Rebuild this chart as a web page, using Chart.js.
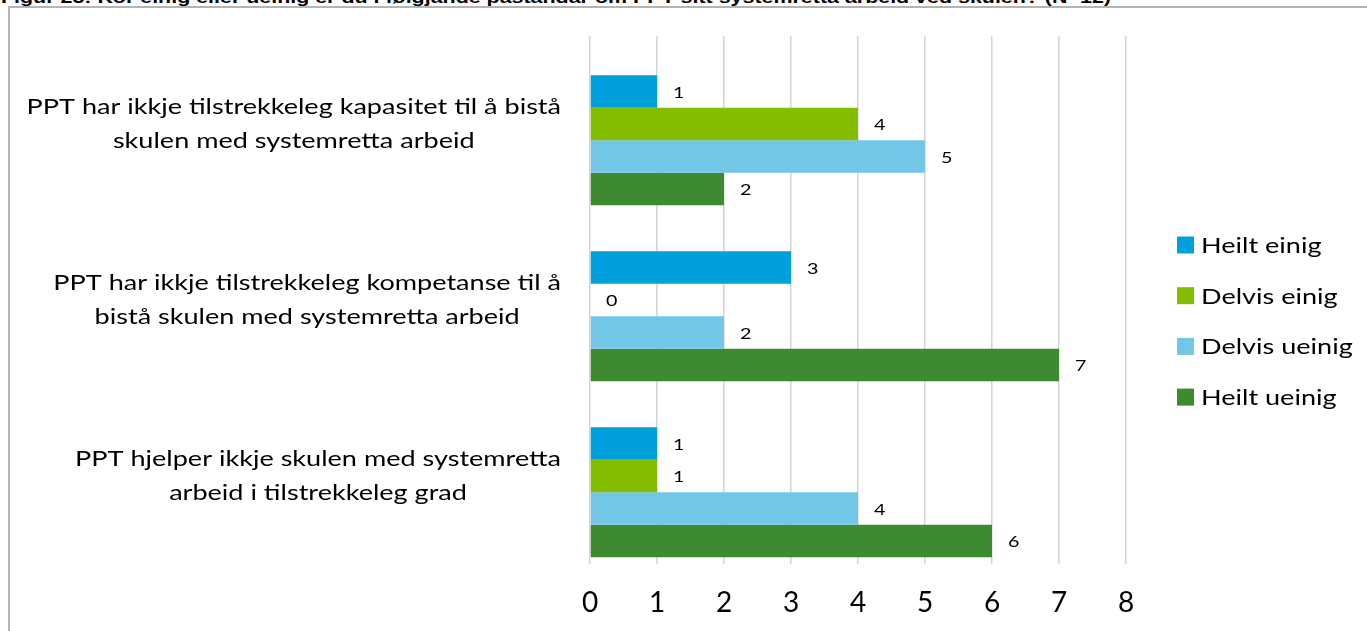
<!DOCTYPE html>
<html>
<head>
<meta charset="utf-8">
<script src="https://cdn.jsdelivr.net/npm/chart.js@4.4.1/dist/chart.umd.min.js"></script>
<style>
  html, body { margin: 0; padding: 0; background: #fff; overflow: hidden; }
  body { width: 1367px; height: 631px; position: relative; }
  #title {
    position: absolute; left: 1px; top: -11px; white-space: nowrap;
    font: bold 17px "Liberation Sans", Arial, sans-serif; line-height: 17px; color: #000;
    transform: scaleX(1.26); transform-origin: 0 0;
  }
  #frame {
    position: absolute; left: 8px; top: 6px; right: 0; bottom: 0;
    border-left: 2px solid #b4b4b4; border-top: 2px solid #b4b4b4;
  }
  #frame canvas { display: block; }
</style>
</head>
<body>
<div id="title">Figur 25: Kor einig eller ueinig er du i følgjande påstandar om PPT sitt systemretta arbeid ved skulen? (N=12)</div>
<div id="frame"><canvas id="myChart" width="1357" height="623"></canvas></div>
<script>
// Categories (two lines each, as in the original)
const categories = [
    ['PPT har ikkje tilstrekkeleg kapasitet til å bistå', 'skulen med systemretta arbeid'],
    ['PPT har ikkje tilstrekkeleg kompetanse til å', 'bistå skulen med systemretta arbeid'],
    ['PPT hjelper ikkje skulen med systemretta', 'arbeid i tilstrekkeleg grad']
];

// Series values (number of answers)
const heiltEinig = [1, 3, 1];
const delvisEinig = [4, 0, 1];
const delvisUeinig = [5, 2, 4];
const heiltUeinig = [2, 7, 6];

// Empty slot that the original chart keeps at the top of each group
const emptySlot = [null, null, null];

const seriesNames = ['Heilt einig', 'Delvis einig', 'Delvis ueinig', 'Heilt ueinig'];
const seriesColors = ['#00a0df', '#84bc00', '#72c6e6', '#3d8a31'];

const axisMin = 0;
const axisMax = 8;

const FONT = 'Lato, "Open Sans", sans-serif';
// the source picture is a bit wider than tall, text is stretched to match
const STRETCH = 1.23;

// Category labels: block right-aligned to the plot, lines centred in the block
const categoryLabels = {
    id: 'categoryLabels',
    afterDraw(chart) {
        const ctx = chart.ctx;
        const yScale = chart.scales.y;
        const right = chart.chartArea.left - 29;
        ctx.save();
        ctx.font = '22px ' + FONT;
        ctx.fillStyle = '#000';
        ctx.textAlign = 'center';
        ctx.textBaseline = 'middle';
        categories.forEach((lines, i) => {
            const w = Math.max(...lines.map(l => ctx.measureText(l).width)) * STRETCH;
            const cx = right - w / 2;
            const cy = yScale.getPixelForValue(i);
            const lh = 34;
            lines.forEach((line, j) => {
                ctx.save();
                ctx.translate(cx, cy + (j - (lines.length - 1) / 2) * lh);
                ctx.scale(STRETCH, 1);
                ctx.fillText(line, 0, 0);
                ctx.restore();
            });
        });
        ctx.restore();
    }
};

// Value labels to the right of each bar
const valueLabels = {
    id: 'valueLabels',
    afterDatasetsDraw(chart) {
        const ctx = chart.ctx;
        ctx.save();
        ctx.font = '16px ' + FONT;
        ctx.fillStyle = '#000';
        ctx.textAlign = 'left';
        ctx.textBaseline = 'middle';
        chart.data.datasets.forEach((ds, di) => {
            if (!ds.label) return;
            chart.getDatasetMeta(di).data.forEach((bar, i) => {
                const v = ds.data[i];
                if (v === null) return;
                ctx.save();
                ctx.translate(bar.x + 16, bar.y + 1);
                ctx.scale(STRETCH, 1);
                ctx.fillText(String(v), 0, 0);
                ctx.restore();
            });
        });
        ctx.restore();
    }
};

// Legend on the right
const sideLegend = {
    id: 'sideLegend',
    afterDraw(chart) {
        const ctx = chart.ctx;
        const area = chart.chartArea;
        const x = area.right + 51;
        const y0 = area.top + 209;
        const step = 50.7;
        ctx.save();
        ctx.font = '22px ' + FONT;
        ctx.textAlign = 'left';
        ctx.textBaseline = 'middle';
        chart.data.datasets.filter(ds => ds.label).forEach((ds, k) => {
            const cy = y0 + k * step;
            ctx.fillStyle = ds.backgroundColor;
            ctx.fillRect(x, cy - 8.5, 17, 17);
            ctx.fillStyle = '#000';
            ctx.save();
            ctx.translate(x + 24, cy + 1);
            ctx.scale(STRETCH, 1);
            ctx.fillText(ds.label, 0, 0);
            ctx.restore();
        });
        ctx.restore();
    }
};

const datasets = [
    { label: '', data: emptySlot, backgroundColor: 'rgba(0,0,0,0)' },
    { label: seriesNames[0], data: heiltEinig, backgroundColor: seriesColors[0] },
    { label: seriesNames[1], data: delvisEinig, backgroundColor: seriesColors[1] },
    { label: seriesNames[2], data: delvisUeinig, backgroundColor: seriesColors[2] },
    { label: seriesNames[3], data: heiltUeinig, backgroundColor: seriesColors[3] }
];

const config = {
    type: 'bar',
    data: {
        labels: categories.map(c => c.join(' ')),
        datasets: datasets
    },
    options: {
        indexAxis: 'y',
        responsive: false,
        animation: false,
        events: [],
        categoryPercentage: 0.923,
        barPercentage: 1.0,
        layout: {
            padding: { left: 580, right: 241, top: 28, bottom: 0 }
        },
        plugins: {
            legend: { display: false },
            tooltip: { enabled: false },
            title: { display: false }
        },
        scales: {
            x: {
                min: axisMin,
                max: axisMax,
                ticks: {
                    stepSize: 1,
                    color: '#000',
                    padding: 22,
                    font: { family: FONT, size: 28 }
                },
                grid: { color: '#d4d4d4', lineWidth: 1.5, drawTicks: false },
                border: { display: false },
                afterFit(scale) { scale.height = 67; }
            },
            y: {
                ticks: { display: false },
                grid: { display: false },
                border: { display: false },
                afterFit(scale) { scale.width = 0; }
            }
        }
    },
    plugins: [categoryLabels, valueLabels, sideLegend]
};

const ctx = document.getElementById('myChart').getContext('2d');
document.fonts.load('22px Lato').then(() => new Chart(ctx, config), () => new Chart(ctx, config));
</script>
</body>
</html>
